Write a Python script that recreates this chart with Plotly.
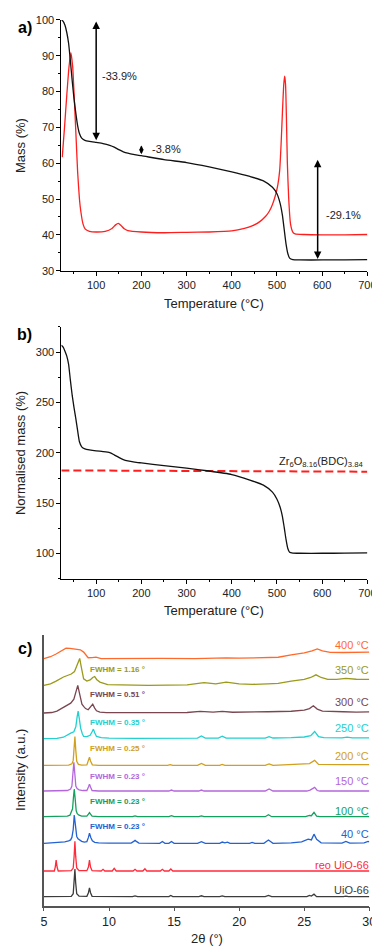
import plotly.graph_objects as go

# ---------------- DATA ----------------
# a) TGA mass curve
T_mass = [23, 27, 31, 35, 39, 43, 47, 51, 55, 59, 63, 68, 75, 85, 100, 115, 130, 140, 150, 160,
          170, 185, 200, 250, 300, 350, 400, 440, 470, 490, 500, 507, 512, 516, 520, 524, 528, 535,
          550, 600, 650, 700]
mass = [100, 99.6, 98.5, 96.5, 93.5, 88.5, 83, 78, 74, 70.5, 68.3, 67.0, 66.4, 66.1, 65.8, 65.5,
        65.0, 64.5, 63.8, 63.2, 62.8, 62.4, 62.1, 61.0, 60.2, 59.0, 57.6, 56.3, 55.1, 53.3, 51.5,
        48.8, 45.5, 41.5, 37.5, 34.8, 33.5, 33.1, 33.0, 33.0, 33.0, 33.1]

# a) derivative (DTG) curve
T_dtg = [25, 30, 35, 40, 44, 48, 52, 56, 59, 63, 66, 71, 76, 85, 100, 120, 135, 143, 149, 155,
         162, 170, 200, 250, 300, 350, 400, 428, 445, 462, 475, 483, 490, 497, 502, 506, 509, 512,
         515, 517, 519, 521, 523, 526, 530, 535, 540, 560, 600, 650, 700]
dtg = [61.7, 70, 79, 87, 90.9, 87, 77, 66, 57.6, 50, 46.6, 43, 41.6, 41, 40.8, 41.0, 41.8, 42.8,
       43.2, 42.6, 41.7, 41.2, 40.8, 40.6, 40.7, 40.8, 41.1, 41.8, 42.5, 43.7, 45.2, 46.6, 48.5,
       51.2, 54, 58, 65, 74, 82, 84.3, 82, 72, 60, 50, 43, 40.8, 40.3, 40.1, 40.0, 40.0, 40.1]

# a) mass-loss steps
step_T = [100, 200, 590]
step_top = [100, 65.4, 61.4]
step_bottom = [66.4, 62.5, 33.3]
step_labels = ["-33.9%", "-3.8%", "-29.1%"]
step_label_T = [108, 220, 603]
step_label_y = [84.3, 63.9, 45.5]

# b) normalised mass
T_norm = [23, 27, 31, 35, 39, 43, 47, 51, 55, 59, 63, 68, 75, 85, 100, 115, 130, 140, 150, 160,
          170, 185, 200, 250, 300, 350, 400, 440, 470, 490, 500, 507, 512, 516, 520, 524, 528, 535,
          550, 600, 650, 700]
norm_mass = [307, 305, 301, 296, 288, 272, 257, 245, 234, 222, 211, 206, 204, 203, 202, 201.3,
             200.3, 198, 195.5, 193.3, 192, 190.8, 190, 187.3, 184.8, 182, 178.5, 173, 168, 161,
             154, 146, 137, 126, 114, 105, 101.2, 100.5, 100.3, 100.3, 100.4, 100.6]
ref_T = [23, 700]
ref_mass = [182.6, 181.3]
ref_label = "Zr<sub>6</sub>O<sub>8.16</sub>(BDC)<sub>3.84</sub>"

# c) XRD patterns: (2theta, relative intensity)
xrd_uio66 = [(5.0, 0), (7.1, 0.3), (7.25, 3), (7.32, 14), (7.38, 28), (7.44, 14), (7.52, 3), (7.7, 0.5),
             (8.3, 0.3), (8.42, 4), (8.5, 9), (8.58, 4), (8.7, 0.3), (11.8, 0), (12.0, 0.8), (12.2, 0),
             (13.9, 0), (14.1, 0.7), (14.3, 0), (14.6, 0), (14.75, 1.2), (14.9, 0), (16.9, 0), (17.1, 0.9),
             (17.3, 0), (18.5, 0), (18.7, 0.8), (18.9, 0), (22.0, 0), (22.25, 1.3), (22.5, 0), (25.2, 0),
             (25.4, 1.2), (25.55, 0.6), (25.75, 2.5), (25.95, 0), (28.0, 0), (28.2, 0.6), (28.4, 0), (30.0, 0)]
xrd_reo = [(5.0, 0), (5.8, 0), (5.87, 4), (5.94, 11), (6.01, 4), (6.1, 0), (7.1, 0.3), (7.25, 3), (7.32, 15),
           (7.38, 30), (7.44, 15), (7.52, 3), (7.7, 0.3), (8.3, 0.3), (8.42, 4), (8.5, 11), (8.58, 4), (8.7, 0.3),
           (9.4, 0), (9.54, 1.7), (9.68, 0), (10.25, 0), (10.4, 2.7), (10.55, 0), (11.85, 0), (12.0, 1.7),
           (12.15, 0), (12.6, 0), (12.76, 2.3), (12.9, 0), (13.95, 0), (14.1, 1.7), (14.25, 0), (14.6, 0),
           (14.75, 2), (14.9, 0), (30.0, 0)]
xrd_40 = [(5.0, 0), (6.0, 0.5), (6.6, 1.5), (6.9, 2.5), (7.05, 3.5), (7.15, 6), (7.25, 14), (7.33, 28.7),
          (7.42, 17), (7.52, 7), (7.62, 4.5), (7.75, 3), (7.9, 2), (8.1, 1.3), (8.3, 1.8), (8.42, 6),
          (8.5, 10.3), (8.6, 6), (8.72, 2.5), (8.9, 1), (9.2, 0.5), (10.0, 0.3), (11.7, 0.3), (11.9, 2),
          (12.0, 3), (12.1, 2), (12.3, 0.3), (13.9, 0), (14.1, 1.8), (14.3, 0), (14.6, 0), (14.8, 1.8),
          (15.0, 0), (16.8, 0), (17.1, 1.7), (17.4, 0), (18.5, 0), (18.7, 1.3), (18.9, 0.5), (19.1, 1.2),
          (19.3, 0), (20.8, 0), (21.0, 1), (21.2, 0), (21.9, 0), (22.25, 3.3), (22.6, 0), (24.0, 0.5),
          (24.8, 1.5), (25.3, 4.3), (25.55, 3.5), (25.75, 9.3), (25.95, 4), (26.3, 0.5), (27.9, 0.3),
          (28.2, 2), (28.5, 0.3), (29.6, 0.5), (29.9, 2), (30.0, 1.5)]
xrd_100 = [(5.0, 0), (6.8, 0.5), (7.0, 1.5), (7.06, 3.3), (7.2, 8), (7.27, 20), (7.33, 28), (7.4, 18),
           (7.48, 6), (7.56, 3), (7.7, 1.5), (7.9, 0.5), (8.3, 0.5), (8.42, 2.5), (8.5, 4), (8.58, 2.5),
           (8.7, 0.5), (9.2, 0), (11.8, 0), (12.0, 0.8), (12.2, 0), (14.6, 0), (14.8, 1), (15.0, 0),
           (16.9, 0), (17.1, 0.8), (17.3, 0), (22.0, 0), (22.25, 2), (22.5, 0), (25.1, 0), (25.4, 1.2),
           (25.55, 1), (25.75, 4.3), (25.95, 0.5), (26.2, 0), (28.0, 0), (28.2, 0.7), (28.4, 0), (30.0, 0)]
xrd_150 = [(5.0, 0), (6.8, 0.5), (7.05, 2), (7.15, 5), (7.23, 18), (7.3, 29), (7.37, 18), (7.45, 5),
           (7.55, 2.5), (7.7, 1.2), (8.0, 0.5), (8.3, 0.5), (8.42, 4), (8.5, 7), (8.58, 4), (8.7, 0.5),
           (9.2, 0), (14.6, 0), (14.8, 1), (15.0, 0), (16.9, 0), (17.1, 1), (17.3, 0), (22.0, 0), (22.3, 2),
           (22.6, 0), (25.2, 0), (25.45, 1), (25.8, 3.7), (26.0, 0.5), (26.2, 0), (30.0, 0)]
xrd_200 = [(5.0, 0), (6.9, 0.3), (7.15, 1.5), (7.25, 5), (7.32, 18), (7.38, 29.3), (7.45, 15), (7.52, 4),
           (7.65, 1), (7.9, 0.3), (8.3, 0.5), (8.42, 4.5), (8.5, 8.3), (8.58, 4.5), (8.72, 0.5), (9.2, 0),
           (14.5, 0), (14.7, 0.8), (14.9, 0), (16.8, 0), (17.1, 2), (17.4, 0), (18.5, 0), (18.7, 1),
           (18.9, 0), (22.0, 0), (22.3, 1.5), (22.6, 0), (24.0, 0.8), (25.4, 1.8), (25.8, 5), (26.1, 1),
           (27.9, 0.8), (28.3, 1.2), (28.6, 0.8), (30.0, 0.8)]
xrd_250 = [(5.0, 0), (6.0, 0.3), (6.5, 1.5), (6.8, 4), (7.06, 5.7), (7.3, 7), (7.45, 12), (7.55, 22),
           (7.63, 28), (7.72, 20), (7.82, 10.7), (7.95, 5), (8.05, 2.3), (8.3, 2), (8.55, 3.5), (8.7, 7),
           (8.8, 9.7), (8.9, 6), (9.04, 2.3), (9.4, 1), (10.0, 0.5), (12.0, 0.3), (16.8, 0.5), (17.1, 2.7),
           (17.4, 0.5), (18.4, 0.5), (18.7, 2.5), (19.0, 0.5), (22.0, 0.5), (22.3, 2), (22.6, 0.7),
           (24.0, 1), (25.0, 1.7), (25.5, 3), (25.8, 7.3), (26.1, 2), (26.5, 1), (27.9, 0.8), (28.3, 1.5),
           (28.7, 0.8), (30.0, 0.8)]
xrd_300 = [(5.0, 0), (5.6, 0.5), (6.0, 2), (6.4, 5), (6.7, 8), (7.06, 10), (7.3, 14), (7.45, 20), (7.6, 28),
           (7.7, 22), (7.8, 14), (7.92, 9), (8.05, 6.7), (8.2, 4.5), (8.4, 3.3), (8.6, 6), (8.75, 9), (8.9, 5),
           (9.04, 2.3), (9.3, 1), (9.8, 0.3), (12.0, 0.3), (16.0, 0.5), (17.0, 1.7), (18.0, 1), (18.7, 1.7),
           (19.5, 0.8), (22.2, 1.3), (24.0, 1.8), (25.0, 3), (25.4, 4.5), (25.7, 7.3), (26.0, 4), (26.4, 2),
           (27.0, 1.5), (28.0, 1.3), (29.0, 1.0), (30.0, 1.2)]
xrd_350 = [(5.0, 0), (5.5, 1.5), (5.9, 4), (6.2, 6.7), (6.5, 8.5), (6.8, 10), (7.1, 11.5), (7.35, 14),
           (7.55, 20), (7.75, 27.3), (7.85, 20), (7.95, 11), (8.05, 6.7), (8.3, 4.3), (8.55, 5.5), (8.75, 8),
           (8.9, 9), (9.05, 6), (9.3, 3.3), (9.9, 0.7), (11.0, 0.5), (13.0, 0), (16.0, 0.5), (17.3, 2.7),
           (18.2, 1.5), (19.0, 3.3), (20.0, 1.5), (21.0, 1), (22.2, 1.5), (23.0, 2), (24.0, 4.3), (25.0, 6),
           (25.5, 8), (25.9, 10.7), (26.3, 8), (26.8, 6), (27.5, 6), (28.2, 7), (29.0, 6.2), (30.0, 6)]
xrd_400 = [(5.0, 0), (5.5, 2), (5.9, 4.5), (6.2, 6.7), (6.5, 9.5), (6.7, 10.7), (7.0, 10.5), (7.4, 10),
           (7.65, 9.5), (7.8, 9), (8.05, 6.7), (8.25, 3), (8.4, 1), (8.7, 1.2), (9.0, 1.7), (9.4, 0),
           (12.0, 0.5), (14.0, 0.3), (16.6, 0), (18.0, 0.8), (19.0, 0.8), (20.0, 0.5), (22.0, 0.8),
           (23.0, 1.5), (24.0, 4), (25.0, 6), (25.6, 8), (26.0, 10), (26.4, 8), (27.0, 6.5), (28.0, 6.3),
           (29.0, 6.5), (30.0, 6.7)]

sample_names = ["UiO-66", "reo UiO-66", "40 °C", "100 °C", "150 °C", "200 °C",
                "250 °C", "300 °C", "350 °C", "400 °C"]
fwhm_values = [None, None, 0.23, 0.23, 0.23, 0.25, 0.35, 0.51, 1.16, None]
xrd_data = [xrd_uio66, xrd_reo, xrd_40, xrd_100, xrd_150, xrd_200, xrd_250, xrd_300, xrd_350, xrd_400]

# ---------------- STYLE / LAYOUT ----------------
FONT = "Arial, Liberation Sans, Helvetica, sans-serif"
xrd_colors = ["#3c3c3c", "#ff2a3a", "#2462d2", "#14a05e", "#b466dc", "#d2a020",
              "#22d0d0", "#7a4650", "#9a9a1c", "#ff6a2c"]
xrd_offsets = [9, 35, 63, 90, 116, 142, 169, 195, 223, 250]
label_y = [16, 41, 72, 96, 126, 151, 180, 206, 239, 264]
fwhm_y = [None, None, 80, 105, 131, 159, 185, 214, 239, None]

W, H = 380, 946
def px_x(p):
    return p / W
def px_y(p):
    return 1 - p / H

fig = go.Figure()

# panel a
fig.add_trace(go.Scatter(x=T_dtg, y=dtg, mode="lines", xaxis="x", yaxis="y",
                         line=dict(color="#ff1e1e", width=1.3, shape="spline", smoothing=0.5)))
fig.add_trace(go.Scatter(x=T_mass, y=mass, mode="lines", xaxis="x", yaxis="y",
                         line=dict(color="#111111", width=1.3, shape="spline", smoothing=0.5)))
# panel b
fig.add_trace(go.Scatter(x=ref_T, y=ref_mass, mode="lines", xaxis="x2", yaxis="y2",
                         line=dict(color="#ff1e1e", width=2, dash="8px,4px")))
fig.add_trace(go.Scatter(x=T_norm, y=norm_mass, mode="lines", xaxis="x2", yaxis="y2",
                         line=dict(color="#111111", width=1.3, shape="spline", smoothing=0.5)))
# panel c
for data, col, off in zip(xrd_data, xrd_colors, xrd_offsets):
    tt = [p[0] for p in data]
    it = [off + p[1] for p in data]
    fig.add_trace(go.Scatter(x=tt, y=it, mode="lines", xaxis="x3", yaxis="y3",
                             line=dict(color=col, width=1.3)))

common = dict(showline=True, linecolor="black", linewidth=1, ticks="outside", ticklen=4,
              tickwidth=1, tickcolor="black", showgrid=False, zeroline=False,
              ticklabeloverflow="allow",
              tickfont=dict(size=11, color="#222", family=FONT))

ann = []
# panel letters
for lt, yy in [("a)", 14), ("b)", 325), ("c)", 643)]:
    ann.append(dict(text="<b>" + lt + "</b>", x=px_x(14), y=px_y(yy), xref="paper", yref="paper",
                    showarrow=False, font=dict(size=16, family=FONT, color="black"),
                    xanchor="center", yanchor="middle"))
# axis titles
for txt, xx, yy, ang in [("Temperature (°C)", 210, 293, 0), ("Mass (%)", 10, 133, -90),
                         ("Temperature (°C)", 210, 604, 0), ("Normalised mass (%)", 10, 445, -90),
                         ("2θ (°)", 202, 936, 0), ("Intensity (a.u.)", 10, 766, -90)]:
    ann.append(dict(text=txt, x=px_x(xx), y=px_y(yy), xref="paper", yref="paper",
                    showarrow=False, textangle=ang, font=dict(size=13, family=FONT, color="#222"),
                    xanchor="center", yanchor="middle"))
# step arrows
for i, (T, top, bot, lab, lx, ly) in enumerate(zip(step_T, step_top, step_bottom, step_labels,
                                                   step_label_T, step_label_y)):
    ann.append(dict(x=T, y=bot, ax=T, ay=top, xref="x", yref="y", axref="x", ayref="y",
                    text="", showarrow=True, arrowhead=2, arrowside="end+start",
                    arrowsize=0.6 if i == 1 else 1, arrowwidth=1.5, arrowcolor="black"))
    ann.append(dict(x=lx, y=ly, xref="x", yref="y", text=lab, showarrow=False,
                    xanchor="left", yanchor="middle", font=dict(size=11, family=FONT, color="#222")))
# ref label
ann.append(dict(x=500, y=191, xref="x2", yref="y2", text=ref_label, showarrow=False,
                xanchor="left", yanchor="middle", font=dict(size=11, family=FONT, color="#222")))
# xrd labels
for name, col, ly, fv, fy in zip(sample_names, xrd_colors, label_y, fwhm_values, fwhm_y):
    ann.append(dict(x=px_x(372), y=ly, xref="paper", yref="y3", text=name, showarrow=False,
                    xanchor="right", yanchor="middle", font=dict(size=11, family=FONT, color=col)))
    if fv is not None:
        ann.append(dict(x=8.35, y=fy, xref="x3", yref="y3", text="<b>FWHM = %.2f °</b>" % fv,
                        showarrow=False, xanchor="left", yanchor="middle",
                        font=dict(size=8, family=FONT, color=col)))

fig.update_layout(
    width=W, height=H, margin=dict(l=0, r=0, t=0, b=0),
    paper_bgcolor="white", plot_bgcolor="white", showlegend=False,
    font=dict(family=FONT),
    xaxis=dict(domain=[px_x(52), px_x(368)], range=[23, 700], anchor="y", tickmode="linear",
               tick0=0, dtick=100, minor=dict(ticks="outside", ticklen=2, tick0=0, dtick=50, tickcolor="black"),
               **common),
    yaxis=dict(domain=[px_y(260), px_y(6)], range=[30, 100.01], anchor="x", tickmode="linear",
               tick0=0, dtick=10, minor=dict(ticks="outside", ticklen=2, tick0=0, dtick=5, tickcolor="black"),
               **common),
    xaxis2=dict(domain=[px_x(52), px_x(368)], range=[23, 700], anchor="y2", tickmode="linear",
                tick0=0, dtick=100, minor=dict(ticks="outside", ticklen=2, tick0=0, dtick=50, tickcolor="black"),
                **common),
    yaxis2=dict(domain=[px_y(572), px_y(317)], range=[75, 325], anchor="x2", tickmode="linear",
                tick0=0, dtick=50, minor=dict(ticks="outside", ticklen=2, tick0=0, dtick=25, tickcolor="black"),
                **common),
    xaxis3=dict(domain=[px_x(34), px_x(370)], range=[5, 30], anchor="y3", tickmode="linear",
                tick0=0, dtick=5, showline=True, linecolor="#555", linewidth=1.5, ticks="outside",
                ticklen=4, tickwidth=1.2, tickcolor="#555", showgrid=False, zeroline=False,
                ticklabeloverflow="allow",
                tickfont=dict(size=12.5, color="#222", family=FONT)),
    yaxis3=dict(domain=[px_y(903), px_y(629)], range=[0, 274], anchor="x3", showline=True,
                linecolor="#555", linewidth=1.5, ticks="", showticklabels=False, showgrid=False,
                zeroline=False),
    annotations=ann,
)

fig.write_html("out.html")
